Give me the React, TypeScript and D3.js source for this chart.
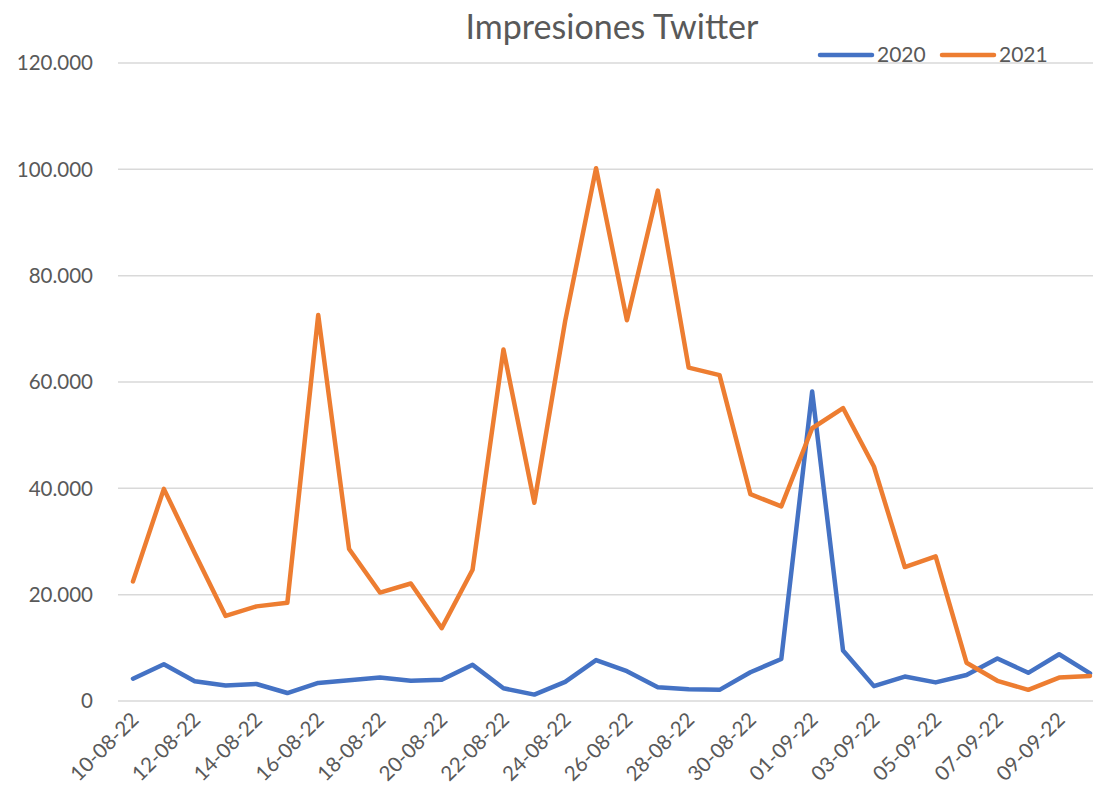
import React from 'react';
import * as d3 from 'd3';

const dates = [
  '10-08-22', '11-08-22', '12-08-22', '13-08-22', '14-08-22', '15-08-22', '16-08-22', '17-08-22',
  '18-08-22', '19-08-22', '20-08-22', '21-08-22', '22-08-22', '23-08-22', '24-08-22', '25-08-22',
  '26-08-22', '27-08-22', '28-08-22', '29-08-22', '30-08-22', '31-08-22', '01-09-22', '02-09-22',
  '03-09-22', '04-09-22', '05-09-22', '06-09-22', '07-09-22', '08-09-22', '09-09-22', '10-09-22'
];

const values2020 = [
  4200, 6900, 3700, 2900, 3200, 1500, 3400, 3900,
  4400, 3800, 4000, 6800, 2400, 1200, 3600, 7700,
  5600, 2600, 2200, 2100, 5400, 7900, 58200, 9500,
  2800, 4600, 3500, 4900, 8000, 5300, 8800, 5200
];

const values2021 = [
  22500, 39900, 27800, 16000, 17800, 18500, 72600, 28600,
  20400, 22100, 13700, 24700, 66100, 37300, 71500, 100200,
  71600, 96000, 62700, 61300, 38900, 36600, 51300, 55100,
  44100, 25200, 27200, 7200, 3800, 2100, 4400, 4700
];

const yTicks = [0, 20000, 40000, 60000, 80000, 100000, 120000];

const seriesNames = ['2020', '2021'];
const colors = ['#4472C4', '#ED7D31'];

const width = 1093;
const height = 802;
const font = 'Lato, "Open Sans", sans-serif';
const textColor = '#595959';

const App = () => {
  const x = d3.scalePoint<string>().domain(dates).range([133, 1090]);
  const y = d3.scaleLinear().domain([0, 120000]).range([701, 63]);

  const fmt = d3.formatLocale({
    decimal: ',',
    thousands: '.',
    grouping: [3],
    currency: ['', '€']
  }).format(',d');

  const line = d3.line<number>()
    .x((d, i) => x(dates[i]) as number)
    .y(d => y(d));

  const series = [values2020, values2021];

  return (
    <svg width={width} height={height}
         style={{ position: 'absolute', left: 0, top: 0, background: '#fff' }}>
      <text x={612} y={39} textAnchor="middle" fontFamily={font} fontSize={34} fill={textColor}>
        Impresiones Twitter
      </text>

      {yTicks.map(t => (
        <g key={t}>
          <line x1={118} x2={1106} y1={y(t)} y2={y(t)} stroke="#d9d9d9" strokeWidth={1.5} />
          <text x={93} y={y(t)} dy="0.35em" textAnchor="end"
                fontFamily={font} fontSize={20.5} fill={textColor}>
            {fmt(t)}
          </text>
        </g>
      ))}

      {dates.filter((d, i) => i % 2 === 0).map(d => (
        <text key={d} textAnchor="end" fontFamily={font} fontSize={20.5} fill={textColor}
              transform={`translate(${(x(d) as number) + 7}, ${721}) rotate(-45)`}>
          {d}
        </text>
      ))}

      {series.map((s, i) => (
        <path key={seriesNames[i]} d={line(s) || ''} fill="none" stroke={colors[i]}
              strokeWidth={4.5} strokeLinejoin="round" strokeLinecap="round" />
      ))}

      {seriesNames.map((name, i) => (
        <g key={name} transform={`translate(${820 + i * 122}, 55)`}>
          <line x1={0} x2={52} y1={0} y2={0} stroke={colors[i]} strokeWidth={4.5} strokeLinecap="round" />
          <text x={57} y={0} dy="0.35em" fontFamily={font} fontSize={21} fill={textColor}>
            {name}
          </text>
        </g>
      ))}
    </svg>
  );
};

export default App;
